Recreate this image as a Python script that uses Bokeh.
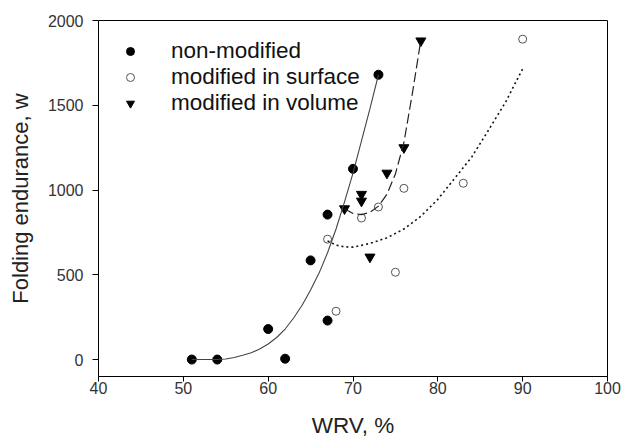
from bokeh.plotting import figure
from bokeh.models import Range1d, FixedTicker, Legend, LegendItem
from bokeh.embed import file_html
from bokeh.resources import INLINE

# measured data
nonmod_x = [51, 54, 60, 62, 65, 67, 67, 70, 73]
nonmod_y = [0, 0, 180, 5, 585, 855, 230, 1125, 1680]
surf_x = [67, 68, 71, 73, 75, 76, 83, 90]
surf_y = [710, 285, 835, 900, 515, 1010, 1040, 1890]
vol_x = [69, 71, 71, 72, 74, 76, 78]
vol_y = [890, 975, 935, 605, 1100, 1250, 1880]

# fitted curves
fit_nm_x = [51, 54, 55, 56, 57, 58, 59, 60, 61, 62, 63, 64, 65, 66, 67, 68, 69, 70, 71, 72, 73]
fit_nm_y = [0, 0, 3, 12, 25, 40, 62, 92, 130, 180, 245, 320, 410, 510, 630, 770, 930, 1100, 1290, 1480, 1680]
fit_vol_x = [69, 70, 71, 72, 73, 74, 75, 76, 77, 78]
fit_vol_y = [890, 862, 855, 868, 905, 975, 1095, 1280, 1570, 1885]
fit_surf_x = [67, 68, 69, 70, 72, 74, 76, 78, 80, 82, 84, 86, 88, 90]
fit_surf_y = [700, 675, 665, 663, 685, 718, 770, 845, 945, 1070, 1195, 1355, 1520, 1715]

x_ticks = [40, 50, 60, 70, 80, 90, 100]
y_ticks = [0, 500, 1000, 1500, 2000]
labels = ["non-modified", "modified in surface", "modified in volume"]

FONT = "Liberation Sans"

p = figure(width=622, height=442, output_backend="svg", toolbar_location=None,
           x_range=Range1d(40, 100), y_range=Range1d(-100, 2000),
           min_border_left=98, min_border_right=15, min_border_top=20, min_border_bottom=66)
p.grid.visible = False
p.outline_line_color = "black"
p.outline_line_width = 1
p.background_fill_color = "white"
p.border_fill_color = "white"

for ax in (p.xaxis[0], p.yaxis[0]):
    ax.axis_line_color = "black"
    ax.major_tick_line_color = "black"
    ax.minor_tick_line_color = None
    ax.major_tick_in = 0
    ax.major_label_text_font = FONT
    ax.major_label_text_font_size = "16px"
    ax.major_label_text_color = "#333333"
    ax.axis_label_text_font = FONT
    ax.axis_label_text_font_style = "normal"
    ax.axis_label_text_color = "#222222"

p.xaxis.major_tick_out = 5
p.yaxis.major_tick_out = 6
p.xaxis.axis_label_text_font_size = "22.5px"
p.yaxis.axis_label_text_font_size = "22px"
p.xaxis.ticker = FixedTicker(ticks=x_ticks)
p.yaxis.ticker = FixedTicker(ticks=y_ticks)
p.xaxis.axis_label = "WRV, %"
p.yaxis.axis_label = "Folding endurance, w"
p.xaxis.major_label_standoff = 0
p.yaxis.major_label_standoff = 9
p.xaxis.axis_label_standoff = 16
p.yaxis.axis_label_standoff = 12

r1 = p.scatter(nonmod_x, nonmod_y, marker="circle", size=9, fill_color="black", line_color="black")
r2 = p.scatter(surf_x, surf_y, marker="circle", size=8, fill_color=None, line_color="#555555", line_width=1)
r3 = p.scatter(vol_x, vol_y, marker="inverted_triangle", size=10, fill_color="black", line_color="black")

p.line(fit_nm_x, fit_nm_y, line_color="#444444", line_width=1.1)
p.line(fit_vol_x, fit_vol_y, line_color="#222222", line_width=1.2, line_dash="10 4")
p.line(fit_surf_x, fit_surf_y, line_color="#111111", line_width=1.6, line_dash="2 3")

legend = Legend(items=[LegendItem(label=labels[0], renderers=[r1]),
                       LegendItem(label=labels[1], renderers=[r2]),
                       LegendItem(label=labels[2], renderers=[r3])],
                location=(22, 260), margin=0, padding=0, spacing=0,
                glyph_width=20, glyph_height=24, label_height=24, label_standoff=31,
                label_text_font=FONT, label_text_font_size="22.5px", label_text_color="#111111",
                border_line_color=None, background_fill_alpha=0)
p.add_layout(legend)

open("out.html", "w").write(file_html(p, INLINE))
